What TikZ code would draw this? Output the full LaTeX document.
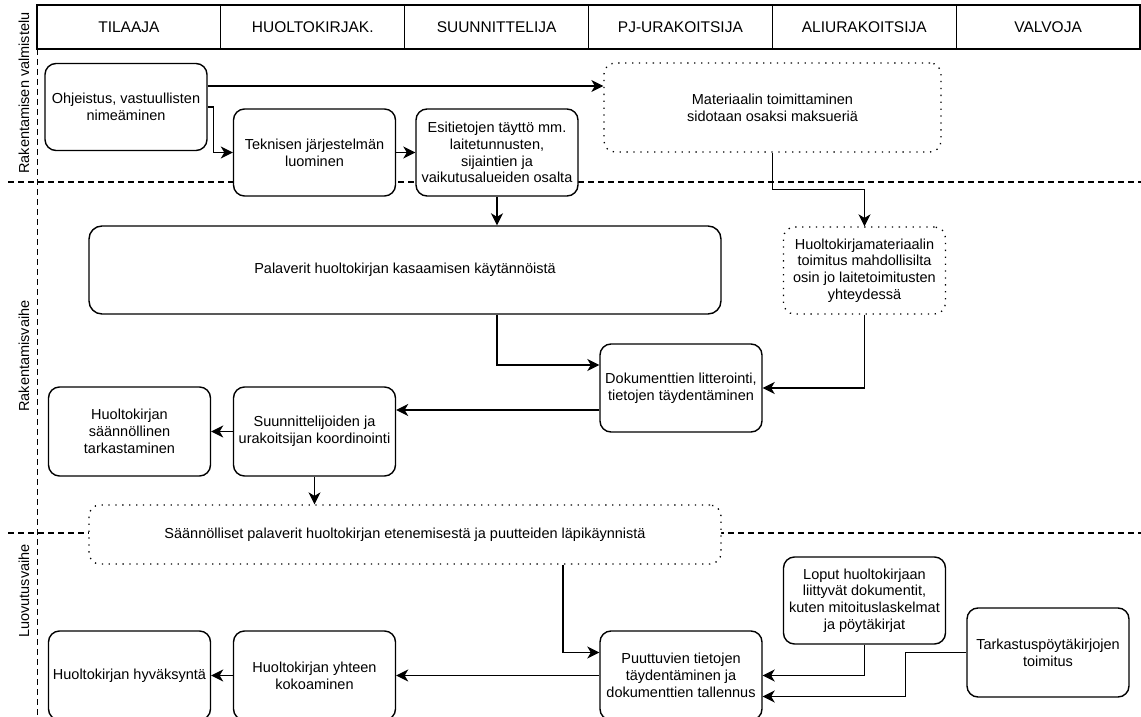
\documentclass[tikz,border=0pt]{standalone}
\usepackage{fontspec}
\setmainfont{Liberation Sans}
\usetikzlibrary{arrows.meta,calc}
\begin{document}
\begin{tikzpicture}[x=1pt,y=-1pt,
  every node/.style={font=\fontsize{14.5}{16.8}\selectfont, align=center},
  box/.style={draw, line width=1.4pt, rounded corners=11pt, fill=white, minimum width=162pt, minimum height=87pt, inner sep=2pt},
  dotbox/.style={box, line width=1.3pt, dash pattern=on 1.3pt off 5.6pt},
  lanehead/.style={draw, line width=1.3pt, minimum width=183.83pt, minimum height=44pt, inner sep=0pt, font=\fontsize{15.5}{17}\selectfont},
  sep/.style={line width=1.3pt, dash pattern=on 6pt off 4pt},
  arr/.style={line width=1.4pt, -{Stealth[length=12pt,width=12pt,inset=3.5pt]}},
  phase/.style={rotate=90, inner sep=0pt}
]
\path[use as bounding box, fill=white] (0,0) rectangle (1141,717);

% lane separators
\draw[sep] (37.5,49) -- (37.5,717);
\draw[sep] (8,182) -- (1141,182);
\draw[sep] (8,533) -- (1141,533);

% header
\node[lanehead] (h1) at (128.9,27) {TILAAJA};
\node[lanehead] (h2) at (312.75,27) {HUOLTOKIRJAK.};
\node[lanehead] (h3) at (496.6,27) {SUUNNITTELIJA};
\node[lanehead] (h4) at (680.4,27) {PJ-URAKOITSIJA};
\node[lanehead] (h5) at (864.25,27) {ALIURAKOITSIJA};
\node[lanehead] (h6) at (1048.1,27) {VALVOJA};

% phase labels
\node[phase] (p1) at (24,93) {Rakentamisen valmistelu};
\node[phase] (p2) at (24,356) {Rakentamisvaihe};
\node[phase] (p3) at (24,591) {Luovutusvaihe};

% boxes
\node[box] (ohj) at (126,107) {Ohjeistus, vastuullisten\\nimeäminen};
\node[box] (tek) at (314.5,152.5) {Teknisen järjestelmän\\luominen};
\node[box] (esi) at (497,152.5) {Esitietojen täyttö mm.\\laitetunnusten,\\sijaintien ja\\vaikutusalueiden osalta};
\node[dotbox, minimum width=337pt, minimum height=89pt] (mat) at (772.5,107.5) {Materiaalin toimittaminen\\sidotaan osaksi maksueriä};
\node[box, minimum width=632pt, minimum height=88pt, rounded corners=13pt] (pal) at (405,270) {Palaverit huoltokirjan kasaamisen käytännöistä};
\node[dotbox] (hmat) at (864.5,270.5) {Huoltokirjamateriaalin\\toimitus mahdollisilta\\osin jo laitetoimitusten\\yhteydessä};
\node[box, minimum height=88pt] (dok) at (681,388) {Dokumenttien litterointi,\\tietojen täydentäminen};
\node[box, minimum height=89pt] (suu) at (314.5,431.5) {Suunnittelijoiden ja\\urakoitsijan koordinointi};
\node[box, minimum height=89pt] (htark) at (129.5,431.5) {Huoltokirjan\\säännöllinen\\tarkastaminen};
\node[dotbox, minimum width=632pt, minimum height=59pt] (saan) at (405,534.5) {Säännölliset palaverit huoltokirjan etenemisestä ja puutteiden läpikäynnistä};
\node[box] (lop) at (864.5,600.5) {Loput huoltokirjaan\\liittyvät dokumentit,\\kuten mitoituslaskelmat\\ja pöytäkirjat};
\node[box, minimum height=89pt] (tar) at (1048,652.5) {Tarkastuspöytäkirjojen\\toimitus};
\node[box, minimum height=89pt] (puu) at (681,675.5) {Puuttuvien tietojen\\täydentäminen ja\\dokumenttien tallennus};
\node[box, minimum height=89pt] (yht) at (314.5,675.5) {Huoltokirjan yhteen\\kokoaminen};
\node[box, minimum height=89pt] (hyv) at (129.5,675.5) {Huoltokirjan hyväksyntä};

% connectors
\draw[arr] ([yshift=21pt]ohj.east) -- ([yshift=21pt]ohj.east -| mat.west);
\draw[arr] (ohj.east) -- ++(6,0) |- (tek.west);
\draw[arr] (tek.east) -- (esi.west);
\draw[arr] (esi.south) -- (esi.south |- pal.north);
\draw[arr] (mat.south) -- ++(0,37) -| (hmat.north);
\draw[arr] (esi.south |- pal.south) |- ([yshift=23pt]dok.west);
\draw[arr] (hmat.south) |- (dok.east);
\draw[arr] ([yshift=-22pt]dok.west) -- ([yshift=-22pt]dok.west -| suu.east);
\draw[arr] (suu.west) -- (htark.east);
\draw[arr] (suu.south) -- (suu.south |- saan.north);
\draw[arr] ([xshift=158pt]saan.south) |- ([yshift=23pt]puu.west);
\draw[arr] (puu.west) -- (yht.east);
\draw[arr] (yht.west) -- (hyv.east);
\draw[arr] (lop.south) |- (puu.east);
\draw[arr] (tar.west) -- ++(-61,0) |- ([yshift=-21pt]puu.east);
\end{tikzpicture}
\end{document}
